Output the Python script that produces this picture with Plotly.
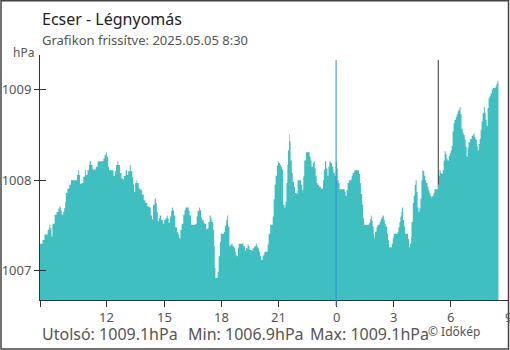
import plotly.graph_objects as go

# ---- data: minutes after 2025-05-04 08:30 and pressure (hPa) ----
minutes = [
    0, 8, 14, 24, 29, 32, 36, 39, 46, 52,
    58, 61, 65, 68, 73, 76, 79, 81, 86, 92,
    97, 112, 116, 120, 123, 126, 130, 136, 141, 144,
    149, 154, 156, 160, 165, 170, 175, 181, 187, 196,
    199, 203, 207, 210, 214, 217, 224, 231, 235, 239,
    243, 246, 251, 256, 261, 264, 269, 273, 277, 282,
    285, 290, 293, 296, 299, 303,
    305, 310, 316, 321, 326, 331, 337, 344, 348, 352,
    355, 360, 364, 367, 370, 373, 376, 381, 386, 390,
    394, 398, 401, 404, 408, 412, 415, 418, 421, 425,
    430, 434, 437, 441, 445, 450, 454, 457, 464, 467,
    470, 475, 483, 488, 492, 495, 499, 502, 506, 509,
    514, 517, 522, 526, 529, 533, 536, 539, 544, 547,
    549, 551, 556, 558, 561, 565, 568, 575, 578, 581,
    585, 588, 591, 595, 598, 602, 605, 610, 613,
    615, 618, 621, 624, 634, 639, 644, 647, 652, 655,
    658, 665, 668, 673, 678, 681, 684, 688, 691, 695,
    699, 702, 705, 712, 715, 718, 723, 729, 731, 734,
    737, 740, 744, 747, 750, 754, 757, 760, 764, 768,
    771, 774, 777, 779, 782, 784, 787, 791, 794, 798,
    801, 806, 809, 817, 820, 824, 827, 830, 835, 844,
    847, 850, 853, 857, 860, 863, 866, 869, 872, 877,
    882, 886, 889, 892, 895, 899, 903, 906, 909, 913,
    917, 921,
    922, 926, 929, 932, 935, 938, 941, 954, 957, 960,
    963, 966, 970, 976, 979, 982, 987, 999, 1002, 1005,
    1008, 1012, 1015, 1018, 1031, 1034, 1037, 1039, 1042, 1045,
    1048, 1050, 1052, 1057, 1060, 1064, 1067, 1070, 1073, 1076,
    1080, 1083, 1086, 1090, 1093, 1096, 1101, 1105, 1108, 1111,
    1119, 1123, 1126, 1129, 1132, 1135, 1137, 1140, 1144, 1147,
    1153, 1156, 1159, 1162, 1166, 1167, 1171, 1174, 1177, 1180,
    1183, 1186, 1189,
    1192, 1195, 1198, 1201, 1204, 1207, 1210, 1213, 1217, 1220,
    1223, 1226, 1229, 1232, 1236, 1239, 1246, 1249, 1252, 1255,
    1258, 1262, 1265, 1268, 1271, 1274, 1277, 1280, 1284, 1287,
    1290, 1293, 1296, 1299, 1302, 1306, 1309, 1312, 1315, 1318,
    1321, 1324, 1328, 1331, 1334, 1337, 1340, 1343, 1346, 1350,
    1353, 1356, 1359, 1362, 1365, 1368, 1372, 1375, 1378, 1381,
    1384, 1387, 1390, 1394, 1397, 1400, 1403, 1406, 1409, 1412,
    1415, 1419, 1422, 1428, 1431, 1434, 1437, 1440,
]

pressure = [
    1007.30, 1007.34, 1007.40, 1007.45, 1007.51, 1007.47, 1007.38, 1007.52, 1007.62, 1007.65,
    1007.69, 1007.71, 1007.67, 1007.62, 1007.65, 1007.69, 1007.76, 1007.86, 1007.91, 1007.95,
    1008.00, 1008.00, 1008.06, 1008.11, 1008.06, 1007.96, 1007.97, 1008.04, 1008.11, 1008.06,
    1008.11, 1008.17, 1008.21, 1008.17, 1008.12, 1008.12, 1008.15, 1008.21, 1008.21, 1008.21,
    1008.24, 1008.28, 1008.31, 1008.26, 1008.15, 1008.11, 1008.11, 1008.05, 1008.10, 1008.17,
    1008.21, 1008.17, 1008.08, 1008.02, 1008.01, 1008.05, 1008.11, 1008.06, 1008.10, 1008.17,
    1008.10, 1008.03, 1007.95, 1007.87, 1007.97, 1008.00,
    1007.97, 1007.91, 1007.89, 1007.84, 1007.78, 1007.75, 1007.71, 1007.70, 1007.61, 1007.57,
    1007.73, 1007.80, 1007.75, 1007.65, 1007.55, 1007.58, 1007.61, 1007.56, 1007.52, 1007.56,
    1007.58, 1007.61, 1007.58, 1007.53, 1007.60, 1007.66, 1007.70, 1007.67, 1007.61, 1007.48,
    1007.43, 1007.40, 1007.36, 1007.45, 1007.52, 1007.62, 1007.67, 1007.70, 1007.70, 1007.66,
    1007.61, 1007.51, 1007.51, 1007.52, 1007.60, 1007.66, 1007.70, 1007.67, 1007.59, 1007.56,
    1007.53, 1007.52, 1007.46, 1007.47, 1007.54, 1007.61, 1007.58, 1007.54, 1007.45, 1007.27,
    1007.03, 1006.92, 1006.92, 1006.99, 1007.16, 1007.32, 1007.41, 1007.41, 1007.43, 1007.50,
    1007.56, 1007.61, 1007.49, 1007.27, 1007.29, 1007.30, 1007.27, 1007.25, 1007.21,
    1007.17, 1007.16, 1007.25, 1007.30, 1007.30, 1007.27, 1007.22, 1007.25, 1007.29, 1007.27,
    1007.23, 1007.22, 1007.25, 1007.27, 1007.30, 1007.27, 1007.25, 1007.21, 1007.16, 1007.12,
    1007.16, 1007.18, 1007.21, 1007.21, 1007.29, 1007.41, 1007.51, 1007.51, 1007.60, 1007.79,
    1007.95, 1008.05, 1008.16, 1008.21, 1008.19, 1008.17, 1008.15, 1008.12, 1007.73, 1007.70,
    1007.76, 1007.97, 1008.17, 1008.33, 1008.51, 1008.43, 1008.22, 1008.08, 1007.98, 1007.93,
    1007.86, 1007.85, 1008.00, 1008.00, 1007.95, 1007.89, 1008.05, 1008.22, 1008.31, 1008.31,
    1008.26, 1008.22, 1008.15, 1008.19, 1008.21, 1008.13, 1008.05, 1007.97, 1007.95, 1007.93,
    1007.91, 1007.91, 1008.00, 1008.12, 1008.21, 1008.13, 1008.05, 1008.15, 1008.21, 1008.19,
    1008.15, 1008.12,
    1008.08, 1008.05, 1008.21, 1008.13, 1008.00, 1007.97, 1007.90, 1007.90, 1007.87, 1007.83,
    1007.89, 1007.97, 1008.00, 1008.01, 1008.05, 1008.08, 1008.11, 1008.11, 1008.07, 1007.97,
    1007.85, 1007.73, 1007.58, 1007.51, 1007.51, 1007.53, 1007.57, 1007.61, 1007.55, 1007.49,
    1007.41, 1007.36, 1007.43, 1007.48, 1007.51, 1007.51, 1007.54, 1007.57, 1007.59, 1007.61,
    1007.56, 1007.52, 1007.49, 1007.41, 1007.34, 1007.26, 1007.26, 1007.30, 1007.36, 1007.41,
    1007.41, 1007.43, 1007.48, 1007.54, 1007.60, 1007.65, 1007.70, 1007.56, 1007.49, 1007.41,
    1007.41, 1007.35, 1007.26, 1007.30, 1007.38, 1007.54, 1007.75, 1007.83, 1007.95, 1008.00,
    1007.87, 1007.70, 1007.65,
    1007.69, 1007.80, 1008.00, 1008.11, 1008.10, 1008.05, 1008.00, 1007.97, 1007.93, 1007.89,
    1007.86, 1007.83, 1007.81, 1007.83, 1007.86, 1007.90, 1007.90, 1007.95, 1008.05, 1008.11,
    1008.08, 1008.07, 1008.11, 1008.22, 1008.32, 1008.29, 1008.24, 1008.22, 1008.27, 1008.30,
    1008.33, 1008.38, 1008.54, 1008.63, 1008.67, 1008.70, 1008.73, 1008.76, 1008.78, 1008.81,
    1008.73, 1008.57, 1008.52, 1008.50, 1008.45, 1008.37, 1008.26, 1008.36, 1008.42, 1008.45,
    1008.46, 1008.49, 1008.50, 1008.52, 1008.48, 1008.45, 1008.38, 1008.33, 1008.40, 1008.46,
    1008.56, 1008.65, 1008.74, 1008.81, 1008.75, 1008.67, 1008.60, 1008.80, 1008.91, 1008.93,
    1008.96, 1009.00, 1009.02, 1009.02, 1009.04, 1009.07, 1009.10, 1009.11,
]

start_hour = 8.5               # 08:30 on 2025-05-04
tick_vals = [8.5, 12, 15, 18, 21, 24, 27, 30, 33]
tick_text = ["", "12", "15", "18", "21", "0", "3", "6", "9"]
y_ticks = [1007, 1008, 1009]
y_tick_text = ["1007", "1008", "1009"]
midnight_hour = 24
sunrise_hour = 29.35           # ~05:21
marker_top = 1009.33

title = "Ecser - Légnyomás"
subtitle = "Grafikon frissítve: 2025.05.05 8:30"
unit = "hPa"
stat_texts = ["Utolsó: 1009.1hPa", "Min: 1006.9hPa", "Max: 1009.1hPa"]
credit = "© Időkép"

hours = [start_hour + m / 60 for m in minutes]

# pressure value at sunrise marker (last reading before it)
sun_level = pressure[0]
for h, p in zip(hours, pressure):
    if h <= sunrise_hour:
        sun_level = p

FONT = "Noto Sans"
GREY = "#555555"
AX = "#333333"

W, H = 510, 350
ML, MR, MT, MB = 40, 2, 55, 50
PW, PH = W - ML - MR, H - MT - MB


def px(x):
    return (x - ML) / PW


def py(y):
    return (H - MB - y) / PH


fig = go.Figure()
fig.add_trace(go.Scatter(
    x=hours, y=pressure, mode="lines", line=dict(width=0, shape="hv"),
    fill="tozeroy", fillcolor="#40bfc1", hoverinfo="skip", showlegend=False,
))
fig.add_trace(go.Scatter(
    x=[hours[0]], y=[pressure[0]], mode="markers", marker=dict(opacity=0),
    yaxis="y2", hoverinfo="skip", showlegend=False,
))

yr = [1006.677, 1009.385]
fig.update_layout(
    width=W, height=H,
    margin=dict(l=ML, r=MR, t=MT, b=MB),
    paper_bgcolor="white", plot_bgcolor="white",
    font=dict(family=FONT, color=GREY, size=13),
    xaxis=dict(
        range=[8.5, 33], tickvals=tick_vals, ticktext=tick_text,
        ticks="outside", ticklen=6, tickcolor=AX, tickwidth=1,
        showline=True, linecolor=AX, linewidth=1,
        showgrid=False, zeroline=False, automargin=False,
        showticklabels=False,
    ),
    yaxis=dict(
        range=yr, tickvals=y_ticks, ticktext=y_tick_text,
        ticks="outside", ticklen=5, tickcolor=AX, tickwidth=1,
        showline=True, linecolor=AX, linewidth=1,
        showgrid=False, zeroline=False, automargin=False,
        tickfont=dict(family=FONT, size=13, color=GREY),
    ),
    yaxis2=dict(
        range=yr, tickvals=y_ticks, overlaying="y", side="left",
        ticks="inside", ticklen=6, tickcolor=AX, tickwidth=1,
        showticklabels=False, showline=False, showgrid=False,
        zeroline=False, automargin=False,
    ),
    showlegend=False,
)

shapes = [
    dict(type="line", xref="x", yref="paper", x0=midnight_hour, x1=midnight_hour,
         y0=py(306), y1=py(60), line=dict(color="#2a8fdd", width=1)),
    dict(type="line", xref="x", yref="y", x0=sunrise_hour, x1=sunrise_hour,
         y0=sun_level, y1=marker_top, line=dict(color=AX, width=1)),
    dict(type="rect", xref="paper", yref="paper", x0=px(1), x1=px(508.5),
         y0=py(349), y1=py(0.8), line=dict(color="#444444", width=1.5)),
]
fig.update_layout(shapes=shapes)

ann = [
    dict(text=title, x=px(41), y=py(18.5), size=16, color="#222222", xa="left"),
    dict(text=subtitle, x=px(41), y=py(40.5), size=13, color=GREY, xa="left"),
    dict(text=unit, x=px(35), y=py(52.8), size=12, color=GREY, xa="right"),
    dict(text=stat_texts[0], x=px(41), y=py(334), size=16, color=GREY, xa="left"),
    dict(text=stat_texts[1], x=px(186.7), y=py(334), size=16, color=GREY, xa="left"),
    dict(text=stat_texts[2], x=px(309.3), y=py(334), size=16, color=GREY, xa="left"),
    dict(text=credit, x=px(426.7), y=py(331), size=12, color=GREY, xa="left"),
]
annotations = [
    dict(text=a["text"], x=a["x"], y=a["y"], xref="paper", yref="paper",
         xanchor=a["xa"], yanchor="middle", showarrow=False, borderpad=0,
         font=dict(family=FONT, size=a["size"], color=a["color"]))
    for a in ann
]
# x tick labels placed under the axis ticks
for tv, tt in zip(tick_vals, tick_text):
    if tt:
        annotations.append(dict(
            text=tt, x=tv, y=py(316.5), xref="x", yref="paper",
            xanchor="center", yanchor="middle", showarrow=False, borderpad=0,
            font=dict(family=FONT, size=13, color=GREY)))
fig.update_layout(annotations=annotations)

fig.write_html("out.html", config={"displayModeBar": False},
               post_script="document.body.style.margin='0';")
